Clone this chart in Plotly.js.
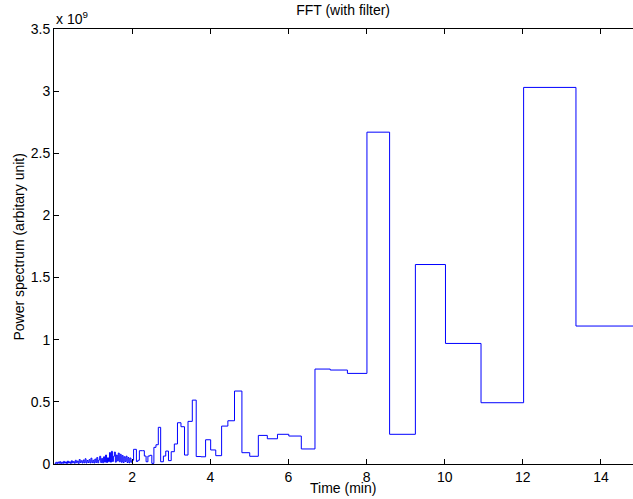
<!DOCTYPE html>
<html>
<head>
<meta charset="utf-8">
<script src="https://cdn.plot.ly/plotly-3.0.1.min.js"></script>
<style>html,body{margin:0;padding:0;background:#fff;overflow:hidden}</style>
</head>
<body>
<div id="chart" style="width:633px;height:499px"></div>
<script>
// Time (min): left edge of each stair step
var timeMin = [
  0.02,0.045,0.07,0.095,0.12,0.145,0.17,0.195,0.22,0.245,0.27,0.295,0.32,0.345,0.37,0.395,0.42,0.445,0.47,0.495,
  0.52,0.545,0.57,0.595,0.62,0.645,0.67,0.695,0.72,0.745,0.77,0.795,0.82,0.845,0.87,0.895,0.92,0.945,0.97,0.995,
  1.02,1.045,1.07,1.095,1.12,1.145,1.17,1.195,1.22,1.245,1.27,1.295,1.32,1.345,1.37,1.395,1.42,1.445,1.47,1.495,
  1.52,1.545,1.57,1.595,1.62,1.645,1.67,1.695,1.72,1.745,1.77,1.795,1.82,1.845,1.87,1.895,1.92,1.945,1.97,1.995,
  2.037,2.072,2.109,2.146,2.185,2.226,2.268,2.312,2.357,2.404,2.453,2.504,2.557,2.61,2.67,2.73,2.80,2.86,2.93,
  3.00,3.08,3.16,3.25,3.34,3.43,3.54,3.64,3.76,3.88,4.01,4.14,4.29,4.45,4.62,4.81,5.01,5.23,5.46,5.72,
  6.01,6.33,6.68,7.07,7.51,8.01,8.59,9.25,10.02,10.93,12.02,13.36,15.03
];
// Power spectrum (x 10^9)
var powerE9 = [
  0.004,0.014,0.003,0.016,0.006,0.019,0.004,0.015,0.005,0.021,0.007,0.017,0.004,0.023,0.008,0.018,0.005,0.026,0.009,0.020,
  0.006,0.030,0.010,0.024,0.005,0.036,0.012,0.026,0.008,0.032,0.010,0.042,0.008,0.028,0.012,0.035,0.009,0.047,0.011,0.030,
  0.008,0.040,0.012,0.052,0.010,0.032,0.062,0.012,0.045,0.010,0.058,0.015,0.072,0.012,0.050,0.018,0.092,0.015,0.102,0.020,
  0.062,0.096,0.015,0.072,0.025,0.088,0.018,0.078,0.014,0.068,0.012,0.058,0.020,0.063,0.012,0.052,0.010,0.048,0.015,0.030,
  0.118,0.118,0.020,0.030,0.107,0.107,0.107,0.064,0.018,0.064,0.070,0.005,0.134,0.155,0.295,0.018,0.064,0.104,0.027,
  0.099,0.161,0.332,0.300,0.072,0.343,0.514,0.060,0.058,0.195,0.113,0.067,0.305,0.348,0.587,0.091,0.062,0.230,0.203,0.239,
  0.225,0.121,0.764,0.756,0.729,2.670,0.239,1.605,0.970,0.493,3.030,1.110,1.110
];
var xTickVals = [2,4,6,8,10,12,14];
var yTickVals = [0,0.5,1,1.5,2,2.5,3,3.5];
var yTickText = ['0','0.5','1','1.5','2','2.5','3','3.5'];

var FONT = '"Liberation Sans", Arial, Helvetica, sans-serif';

var trace = {
  x: timeMin, y: powerE9, type: 'scatter', mode: 'lines',
  line: {shape: 'hv', color: '#0000ff', width: 1},
  hoverinfo: 'skip'
};

var layout = {
  width: 633, height: 499,
  margin: {l: 54, r: 0, t: 29, b: 35, pad: 0},
  paper_bgcolor: '#ffffff', plot_bgcolor: '#ffffff',
  font: {family: FONT, size: 14, color: '#000'},
  showlegend: false,
  title: {text: 'FFT (with filter)', x: 0.542, xanchor: 'center', y: 0.979, yanchor: 'middle', yref: 'container', font: {family: FONT, size: 14, color: '#000'}},
  xaxis: {
    range: [0, 14.82], tickvals: xTickVals, ticktext: xTickVals.map(String),
    ticks: 'inside', ticklen: 5, tickwidth: 1, tickcolor: '#000',
    showline: true, linecolor: '#000', linewidth: 1, mirror: 'ticks',
    showgrid: false, zeroline: false,
    tickfont: {family: FONT, size: 14, color: '#000'}
  },
  yaxis: {
    range: [0, 3.5], tickvals: yTickVals, ticktext: yTickText,
    ticks: 'inside', ticklen: 5, tickwidth: 1, tickcolor: '#000',
    showline: true, linecolor: '#000', linewidth: 1, mirror: false,
    showgrid: false, zeroline: false,
    tickfont: {family: FONT, size: 14, color: '#000'}
  },
  annotations: [
    {text: 'x 10<sup>9</sup>', xref: 'paper', yref: 'paper', x: 0, y: 1,
     xanchor: 'left', yanchor: 'bottom', showarrow: false,
     font: {family: FONT, size: 14, color: '#000'}},
    {text: 'Time (min)', xref: 'paper', yref: 'paper', x: 0.499, y: -0.055,
     xanchor: 'center', yanchor: 'middle', showarrow: false,
     font: {family: FONT, size: 14, color: '#000'}},
    {text: 'Power spectrum (arbitary unit)', xref: 'paper', yref: 'paper', x: -0.062, y: 0.5,
     xanchor: 'center', yanchor: 'middle', textangle: -90, showarrow: false,
     font: {family: FONT, size: 14, color: '#000'}}
  ]
};

Plotly.newPlot('chart', [trace], layout, {displayModeBar: false, staticPlot: true});
</script>
</body>
</html>
